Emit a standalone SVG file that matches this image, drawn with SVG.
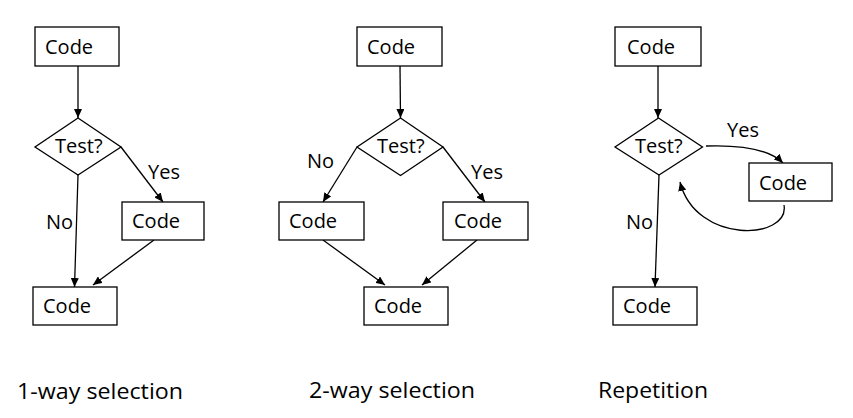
<svg xmlns="http://www.w3.org/2000/svg" width="853" height="418" viewBox="0 0 853 418">
<style>
.box{fill:#fff;stroke:#000;stroke-width:1.3}
.dia{fill:#fff;stroke:#000;stroke-width:1.3}
.conn{fill:none;stroke:#000;stroke-width:1.3;marker-end:url(#ah)}
.line{fill:none;stroke:#000;stroke-width:1.3}
text{font-family:"Open Sans","Noto Sans",sans-serif;font-size:20px;fill:#000}
.cap{font-size:22px}
</style>
<defs>
<marker id="ah" markerWidth="10" markerHeight="8" refX="9" refY="4" orient="auto" markerUnits="userSpaceOnUse">
<path d="M0,0 L9,4 L0,8 Z" fill="#000"/>
</marker>
</defs>
<rect width="853" height="418" fill="#fff"/>
<g id="connectors">
<line class="conn" x1="78" y1="66" x2="78" y2="118"/>
<line class="conn" x1="121" y1="147" x2="163" y2="202"/>
<line class="conn" x1="78" y1="175" x2="74.5" y2="287"/>
<line class="conn" x1="154" y1="240" x2="93" y2="285"/>
<line class="conn" x1="400" y1="66" x2="400.5" y2="118"/>
<line class="conn" x1="357" y1="147" x2="323" y2="202"/>
<line class="conn" x1="443" y1="147" x2="485" y2="202"/>
<line class="conn" x1="323" y1="240" x2="385" y2="285"/>
<line class="conn" x1="477" y1="240" x2="422" y2="285"/>
<line class="conn" x1="658" y1="66" x2="658" y2="118"/>
<path class="conn" d="M706,146 Q764,144 783,163"/>
<path class="conn" d="M784,205 C790,240 696,245 680,182"/>
<line class="conn" x1="659" y1="175" x2="655" y2="287"/>
</g>
<g id="d1-top"><rect class="box" x="35" y="27" width="84" height="39"/><text x="45" y="54">Code</text></g>
<g id="d1-test"><polygon class="dia" points="78,118 121,147 78,175 35,147"/><text x="55" y="153">Test?</text></g>
<g id="d1-yes"><rect class="box" x="122" y="202" width="82" height="38"/><text x="132" y="228">Code</text></g>
<g id="d1-bottom"><rect class="box" x="33" y="287" width="84" height="38"/><text x="43" y="313">Code</text></g>
<text x="148" y="179">Yes</text>
<text x="46" y="229">No</text>
<g id="d2-top"><rect class="box" x="357" y="27" width="85" height="39"/><text x="367" y="54">Code</text></g>
<g id="d2-test"><polygon class="dia" points="400.5,118 443,147 400.5,175.5 357,147"/><text x="377" y="153">Test?</text></g>
<g id="d2-no"><rect class="box" x="279" y="202" width="85" height="38"/><text x="289" y="228">Code</text></g>
<g id="d2-yes"><rect class="box" x="443" y="202" width="85" height="38"/><text x="454" y="228">Code</text></g>
<g id="d2-bottom"><rect class="box" x="364" y="287" width="84" height="38"/><text x="374" y="313">Code</text></g>
<text x="307" y="168">No</text>
<text x="471" y="179">Yes</text>
<g id="d3-top"><rect class="box" x="615" y="27" width="86" height="39"/><text x="627" y="54">Code</text></g>
<g id="d3-test"><polygon class="dia" points="658.5,118 702.5,147 659,175 615,147"/><text x="635" y="153">Test?</text></g>
<g id="d3-body"><rect class="box" x="749" y="163" width="83" height="38"/><text x="759" y="190">Code</text></g>
<g id="d3-bottom"><rect class="box" x="613" y="287" width="84" height="38"/><text x="623" y="313">Code</text></g>
<text x="727" y="137">Yes</text>
<text x="626" y="229">No</text>
<text class="cap" x="17" y="399" textLength="166" lengthAdjust="spacingAndGlyphs">1-way selection</text>
<text class="cap" x="309" y="398" textLength="166" lengthAdjust="spacingAndGlyphs">2-way selection</text>
<text class="cap" x="598" y="398" textLength="110" lengthAdjust="spacingAndGlyphs">Repetition</text>
</svg>
